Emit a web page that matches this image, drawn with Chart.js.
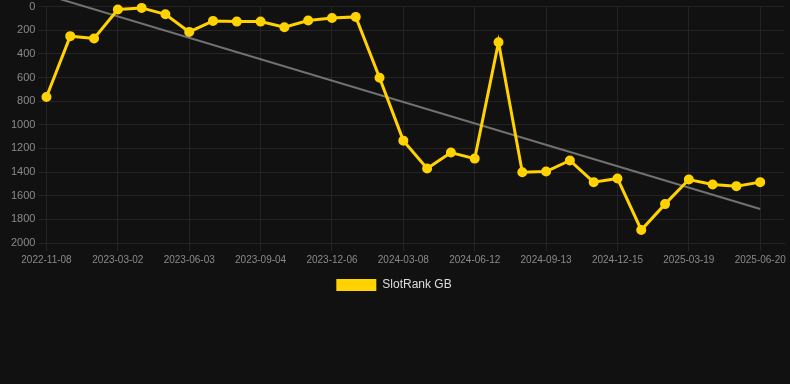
<!DOCTYPE html>
<html>
<head>
<meta charset="utf-8">
<title>SlotRank GB</title>
<script src="https://cdn.jsdelivr.net/npm/chart.js@4/dist/chart.umd.min.js"></script>
<style>
    html, body { margin: 0; padding: 0; background: #111111; overflow: hidden; }
    #wrap { position: relative; top: -3px; width: 790px; height: 304px; }
</style>
</head>
<body>
<div id="wrap"><canvas id="chart"></canvas></div>
<script>
// Rank history (lower = better), one point per ~month
const dates = [
    '2022-11-08', '2022-12-16', '2023-01-23', '2023-03-02', '2023-04-02', '2023-05-03',
    '2023-06-03', '2023-07-04', '2023-08-04', '2023-09-04', '2023-10-05', '2023-11-05',
    '2023-12-06', '2024-01-06', '2024-02-06', '2024-03-08', '2024-04-09', '2024-05-11',
    '2024-06-12', '2024-07-13', '2024-08-13', '2024-09-13', '2024-10-14', '2024-11-14',
    '2024-12-15', '2025-01-15', '2025-02-15', '2025-03-19', '2025-04-19', '2025-05-20',
    '2025-06-20'
];
const rankGB = [
    765, 250, 270, 25, 11, 65, 214, 121, 127, 127, 175, 118,
    96, 87, 602, 1134, 1370, 1235, 1286, 301, 1401, 1395, 1302, 1485,
    1454, 1890, 1671, 1463, 1505, 1519, 1485
];
// trend line end points (first date, last date)
const trendValues = [-98, 1712];
const yTicks = { min: 0, max: 2000, step: 200 };

const colors = {
    bg: '#111111',
    line: '#ffd200',
    trend: '#727272',
    grid: '#242424',
    tick: '#8a8a8a',
    legend: '#dddddd'
};

const FONT = 'Liberation Sans, Arial, sans-serif';

// one blank slot after the last date, the plot runs on a bit past it
const labels = dates.concat(['']);

const trendData = [
    { x: dates[0], y: trendValues[0] },
    { x: dates[dates.length - 1], y: trendValues[1] }
];

new Chart(document.getElementById('chart'), {
    type: 'line',
    data: {
        labels,
        datasets: [
            {
                label: 'SlotRank GB',
                data: rankGB,
                borderColor: colors.line,
                backgroundColor: colors.line,
                borderWidth: 3,
                pointRadius: 4,
                pointBorderWidth: 2,
                pointBackgroundColor: colors.line,
                pointBorderColor: colors.line,
                tension: 0,
                clip: false
            },
            {
                label: 'trend',
                data: trendData,
                borderColor: colors.trend,
                borderWidth: 2,
                pointRadius: 0,
                clip: false
            }
        ]
    },
    options: {
        responsive: true,
        maintainAspectRatio: false,
        animation: false,
        layout: { padding: { right: 2 } },
        plugins: {
            legend: {
                position: 'bottom',
                labels: {
                    color: colors.legend,
                    boxWidth: 40,
                    boxHeight: 12,
                    font: { family: FONT, size: 12 },
                    filter: item => item.text !== 'trend',
                    generateLabels(chart) {
                        const items = Chart.defaults.plugins.legend.labels.generateLabels(chart);
                        items.forEach(it => { it.lineWidth = 0; });
                        return items;
                    }
                }
            },
            tooltip: { enabled: false }
        },
        scales: {
            x: {
                type: 'category',
                offset: false,
                grid: {
                    color: ctx => (ctx.index % 3 === 0 && ctx.index < dates.length) ? colors.grid : 'transparent'
                },
                border: { color: colors.grid },
                ticks: {
                    autoSkip: false,
                    maxRotation: 0,
                    color: colors.tick,
                    font: { family: FONT, size: 10 },
                    callback(value, index) {
                        return index % 3 === 0 ? this.getLabelForValue(value) : '';
                    }
                }
            },
            y: {
                reverse: true,
                min: yTicks.min,
                max: yTicks.max,
                grid: { color: colors.grid },
                border: { color: colors.grid },
                // a little empty room left of the tick labels
                afterFit: scale => { scale.width += 8; },
                ticks: {
                    stepSize: yTicks.step,
                    color: colors.tick,
                    font: { family: FONT, size: 11 },
                    callback: v => String(v)
                }
            }
        }
    }
});
</script>
</body>
</html>
